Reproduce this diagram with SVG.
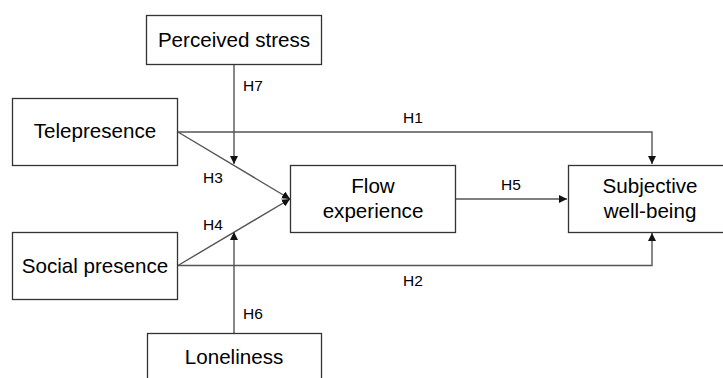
<svg xmlns="http://www.w3.org/2000/svg" width="723" height="378" viewBox="0 0 723 378">
<style>
.box{fill:#fff;stroke:#333;stroke-width:1.3}
.nt{font-family:"Liberation Sans",Arial,sans-serif;font-size:20.6px;fill:#000;text-anchor:middle}
.lb{font-family:"Liberation Sans",Arial,sans-serif;font-size:15.5px;fill:#000}
.ln{fill:none;stroke:#555;stroke-width:1.4}
</style>
<defs>
<marker id="ah" viewBox="0 0 10 10" refX="10" refY="5" markerWidth="8" markerHeight="8" markerUnits="userSpaceOnUse" orient="auto">
<path d="M0,0 L10,5 L0,10 z" fill="#111"/>
</marker>
</defs>
<rect width="723" height="378" fill="#fff"/>
<g id="connectors">
<path class="ln" d="M178,132 H652 V164" marker-end="url(#ah)"/>
<path class="ln" d="M178,265.5 H652 V233" marker-end="url(#ah)"/>
<path class="ln" d="M178,132 L290,199" marker-end="url(#ah)"/>
<path class="ln" d="M178,265.5 L290,199" marker-end="url(#ah)"/>
<path class="ln" d="M456,199 H567" marker-end="url(#ah)"/>
<path class="ln" d="M234,64 V164" marker-end="url(#ah)"/>
<path class="ln" d="M234,333 V232" marker-end="url(#ah)"/>
<text class="lb" x="403" y="123">H1</text>
<text class="lb" x="403" y="286">H2</text>
<text class="lb" x="203" y="183">H3</text>
<text class="lb" x="203" y="230">H4</text>
<text class="lb" x="501" y="190">H5</text>
<text class="lb" x="243" y="319">H6</text>
<text class="lb" x="243" y="91">H7</text>
</g>
<g id="perceived-stress">
<rect class="box" x="146.5" y="15.5" width="175" height="49"/>
<text class="nt" x="234" y="47">Perceived stress</text>
</g>
<g id="telepresence">
<rect class="box" x="12.5" y="98.5" width="165" height="67"/>
<text class="nt" x="95" y="138">Telepresence</text>
</g>
<g id="social-presence">
<rect class="box" x="12.5" y="232.5" width="165" height="67"/>
<text class="nt" x="95" y="273">Social presence</text>
</g>
<g id="flow-experience">
<rect class="box" x="290.5" y="165.5" width="165" height="67"/>
<text class="nt" x="373" y="193">Flow</text>
<text class="nt" x="373" y="218">experience</text>
</g>
<g id="subjective-well-being">
<rect class="box" x="568.5" y="165.5" width="165" height="67"/>
<text class="nt" x="650" y="193">Subjective</text>
<text class="nt" x="650" y="218">well-being</text>
</g>
<g id="loneliness">
<rect class="box" x="147.5" y="333.5" width="174" height="60"/>
<text class="nt" x="234" y="364">Loneliness</text>
</g>
</svg>
